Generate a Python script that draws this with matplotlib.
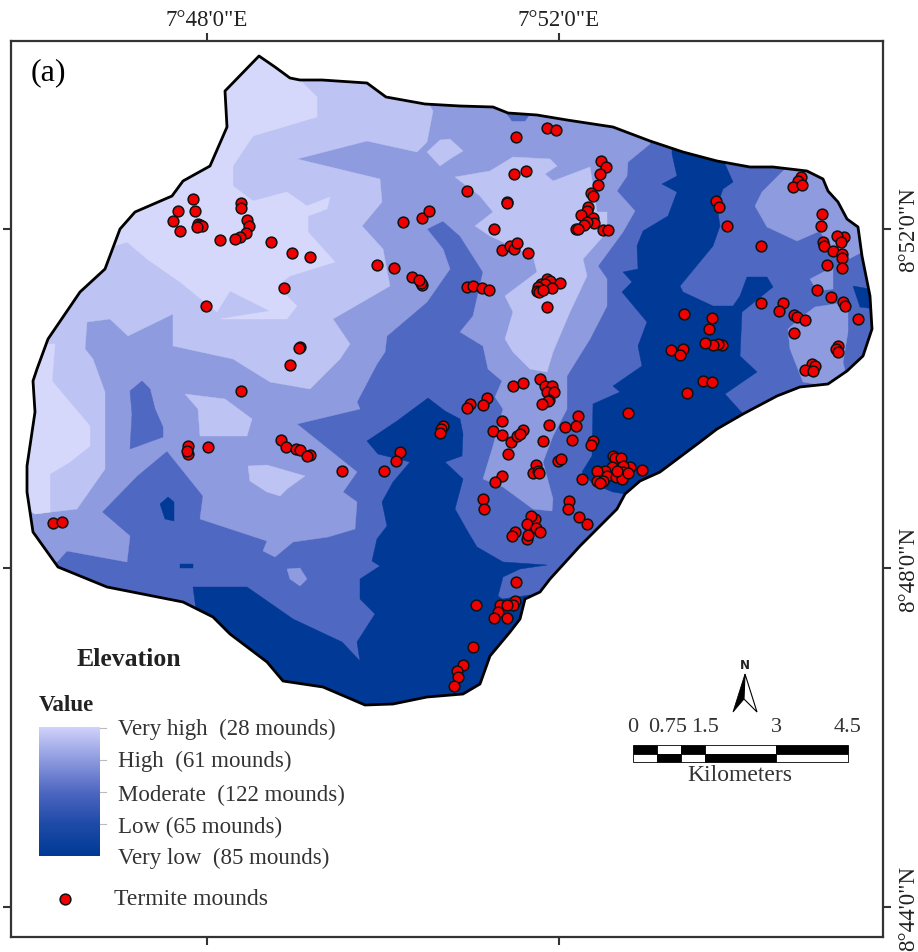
import matplotlib
matplotlib.use("Agg")
import matplotlib.pyplot as plt
import numpy as np
from matplotlib.patches import Polygon, Rectangle
from matplotlib.colors import LinearSegmentedColormap

plt.rcParams['font.family'] = ['Liberation Serif', 'DejaVu Serif']

# ---- map geometry (map units = image pixels) ----
outline = [(259,57),(275,68),(290,79),(300,81),(322,81),(367,84),(386,98),(425,105),(460,107),(493,108),(508,114),
           (537,116),(567,121),(613,128),(650,142),(683,153),(717,162),(750,168),(773,168),(807,172),(823,180),(828,192),
           (838,203),(847,220),(858,228),(862,257),(870,297),(872,330),(863,357),(847,372),(828,385),(800,388),(777,397),
           (743,415),(717,430),(700,443),(660,473),(640,482),(625,495),(617,510),(580,547),(550,580),(540,593),(525,600),
           (520,620),(510,633),(490,657),(480,685),(463,695),(427,698),(393,705),(365,706),(323,688),(283,682),(267,663),
           (230,635),(213,618),(183,603),(107,588),(58,568),(33,533),(27,493),(27,467),(35,413),(33,382),(37,370),(48,340),
           (80,293),(105,270),(120,230),(135,213),(172,197),(183,182),(210,167),(227,128),(225,92)]

moderate_zones = [
    [(650,130),(650,145),(628,163),(627,177),(617,192),(635,212),(623,233),(598,267),(607,280),(607,307),(590,340),
     (567,377),(567,410),(553,437),(543,463),(553,500),(552,512),(533,510),(503,488),(483,480),(493,447),(503,410),
     (495,398),(502,382),(488,370),(483,347),(460,333),(473,317),(483,273),(460,237),(443,222),(427,230),(443,250),
     (450,270),(427,303),(387,337),(385,353),(377,365),(357,403),(360,410),(297,425),(357,473),(343,493),(357,503),
     (355,530),(328,538),(293,543),(275,558),(263,552),(267,542),(200,520),(203,497),(167,452),(137,477),(102,513),
     (130,537),(127,563),(67,552),(57,563),(30,560),(0,400),(200,40),(650,40)],
    [(785,170),(762,193),(755,207),(767,228),(797,242),(820,232),(830,250),(845,262),(868,250),(860,170)],
    [(810,280),(833,268),(833,290),(817,292)],
    [(815,308),(848,303),(848,333),(843,363),(845,372),(827,387),(803,383),(790,350),(788,330),(803,317)],
    [(287,570),(300,569),(307,580),(300,587),(290,580)],
]
low_islands = [
    [(142,382),(130,392),(132,415),(130,450),(163,438),(163,428),(155,410),(150,390)],
    [(505,112),(532,112),(525,122),(512,122)],
]
high_zones = [
    [(300,60),(420,90),(433,112),(427,143),(417,153),(367,142),(297,160),(380,180),(382,203),(362,227),(383,250),
     (390,287),(333,320),(350,345),(340,360),(310,390),(270,383),(233,360),(173,347),(173,315),(128,337),(110,320),
     (87,323),(85,350),(93,360),(105,393),(105,470),(77,510),(35,515),(10,500),(10,300),(200,60)],
    [(455,178),(490,172),(513,158),(550,160),(557,167),(545,175),(553,182),(590,168),(597,213),(607,213),(607,233),
     (583,260),(587,277),(570,313),(553,353),(547,373),(530,370),(513,353),(505,340),(513,313),(505,297),(537,273),
     (533,257),(490,237),(475,227),(493,213),(480,197)],
    [(427,153),(440,141),(450,140),(463,152),(450,160),(440,167)],
    [(185,395),(225,400),(252,420),(247,437),(200,437),(198,410)],
    [(248,467),(267,466),(305,477),(287,490),(280,497),(267,493),(250,482)],
]
very_high_zones = [
    [(302,70),(302,83),(317,98),(317,118),(253,137),(233,167),(233,187),(253,202),(287,193),(307,207),(330,198),
     (327,210),(308,217),(308,233),(335,263),(290,277),(277,287),(297,307),(287,320),(220,320),(270,312),
     (230,292),(217,313),(180,283),(147,260),(127,243),(115,247),(100,240),(240,40)],
    [(20,345),(55,345),(52,382),(90,427),(90,447),(70,463),(50,475),(50,513),(35,515),(10,500),(10,360)],
]
very_low_zones = [
    [(428,399),(445,412),(460,420),(463,435),(462,457),(445,463),(463,480),(455,510),(468,533),(477,548),(503,563),
     (547,566),(520,570),(503,578),(498,597),(502,600),(530,596),(560,600),(530,650),(450,720),(300,720),(200,640),
     (193,588),(247,588),(293,620),(342,643),(360,662),(357,643),(375,615),(360,600),(360,580),(380,567),(372,562),
     (377,540),(387,527),(382,503),(393,483),(410,463),(378,455),(367,442),(397,422)],
    [(672,140),(672,155),(677,177),(662,185),(677,193),(668,217),(643,232),(637,247),(638,270),(623,273),(632,283),
     (622,293),(647,323),(638,347),(642,367),(613,387),(620,393),(593,405),(592,457),(582,473),(593,485),(613,493),
     (625,495),(660,490),(760,420),(743,415),(725,395),(757,373),(740,357),(742,313),(773,288),(767,278),(747,278),
     (740,297),(733,307),(713,307),(683,293),(680,287),(713,247),(720,227),(717,207),(723,190),(733,183),(725,165),(725,150)],
    [(853,287),(870,290),(875,310),(860,308)],
    [(168,498),(160,505),(165,520),(174,522),(174,503)],
    [(180,565),(193,565),(193,569),(180,569)],
]

mounds_north_west = [(193,200),(178,212),(195,212),(173,222),(180,232),(198,225),(200,226),(202,227),(197,228),
    (241,204),(241,209),(247,221),(249,227),(246,234),(240,238),(235,240),(220,241),(271,243),(292,254),(310,258),
    (284,289),(206,307),(300,348),(299,349),(290,366),(403,223),(422,219),(429,212),(377,266),(394,269),(412,278),
    (422,286),(421,284),(419,281),(241,392)]
mounds_north_centre = [(516,138),(547,129),(556,131),(514,175),(526,172),(467,192),(507,203),(507,204),(494,230),
    (502,251),(510,247),(514,250),(517,244),(528,254),(601,162),(606,168),(600,175),(598,186),(591,194),(593,197),
    (588,208),(587,212),(581,216),(593,219),(594,224),(587,223),(584,226),(576,230),(578,230),(603,231),(608,231),
    (467,288),(473,287),(482,289),(489,291),(547,280),(550,282),(541,285),(545,285),(560,284),(552,289),(538,288),
    (537,292),(539,293),(543,291),(547,308)]
mounds_east = [(716,202),(719,208),(727,227),(761,247),(801,178),(798,182),(793,188),(802,186),(822,215),(821,227),
    (844,238),(837,237),(841,243),(823,243),(824,247),(833,252),(842,255),(842,259),(827,266),(842,269),(817,291),
    (831,298),(843,303),(845,307),(858,320),(761,304),(783,304),(779,312),(794,316),(797,318),(805,321),(794,334),
    (838,347),(836,350),(838,353),(812,365),(815,367),(805,371),(813,372),(684,315),(712,319),(709,330),(722,346),
    (718,345),(713,346),(705,344),(683,350),(671,351),(680,356),(703,382),(712,383),(687,394),(628,414)]
mounds_centre_south = [(540,380),(513,387),(523,384),(545,387),(552,387),(547,393),(554,393),(549,401),(548,402),
    (542,405),(487,399),(483,406),(470,405),(467,409),(443,427),(441,430),(440,434),(400,453),(396,462),(384,472),
    (502,422),(493,432),(502,436),(511,443),(517,437),(523,431),(520,435),(549,426),(543,442),(508,455),(578,417),
    (565,428),(576,427),(572,441),(593,442),(591,446),(558,462),(561,460),(536,466),(533,474),(538,472),(539,474),
    (502,477),(495,483),(613,457),(615,459),(621,459),(642,471),(630,468),(623,467),(623,473),(612,468),(605,472),
    (597,472),(607,477),(616,478),(622,480),(597,482),(603,482),(600,484),(582,480),(628,474),(617,472),(483,500),
    (484,510),(569,502),(568,510),(579,518),(587,525),(535,520),(531,517),(527,525),(536,529),(540,533),(527,540),
    (528,536),(515,533),(512,537),(516,583),(476,606),(515,602),(513,606),(500,606),(507,606),(498,613),(494,619),
    (507,619),(473,648),(463,666),(457,672),(458,678),(454,687)]
mounds_south_west = [(188,447),(188,455),(187,452),(208,448),(281,441),(286,448),(296,450),(300,451),(310,456),
    (307,457),(342,472),(53,524),(62,523)]

class_labels = ['Very high  (28 mounds)', 'High  (61 mounds)', 'Moderate  (122 mounds)', 'Low (65 mounds)', 'Very low  (85 mounds)']
scale_km = [0, 0.5, 1.0, 1.5, 3.0, 4.5]
scale_labels = ['0', '0.75', '1.5', '3', '4.5']
x_ticks = [207, 559]
x_labels = ['7°48\'0"E', '7°52\'0"E']
y_ticks = [230, 569, 908]
y_labels = ['8°52\'0"N', '8°48\'0"N', '8°44\'0"N']

C_VH, C_H, C_M, C_L, C_VL = '#D6D8FB', '#BDC3F2', '#8E9BDF', '#4F68C2', '#003A96'
INK = '#222222'
W, H = 918, 953
L_, R_, T_, B_ = 11, 883, 42, 938

fig = plt.figure(figsize=(W/100, H/100), dpi=100, facecolor='white')
ax = fig.add_axes([L_/W, 1-B_/H, (R_-L_)/W, (B_-T_)/H])

clip = Polygon(outline, closed=True, facecolor=C_L, edgecolor='none', zorder=1)
ax.add_patch(clip)
for zones, col, z in [(moderate_zones, C_M, 2), (low_islands, C_L, 3), (high_zones, C_H, 4),
                      (very_high_zones, C_VH, 5), (very_low_zones, C_VL, 6)]:
    for poly in zones:
        p = Polygon(poly, closed=True, facecolor=col, edgecolor=col, lw=0.3, zorder=z)
        ax.add_patch(p)
        p.set_clip_path(clip)
ax.add_patch(Polygon(outline, closed=True, fill=False, edgecolor='black', lw=2.0, joinstyle='round', zorder=7))

mounds = np.array(mounds_north_west + mounds_north_centre + mounds_east + mounds_centre_south + mounds_south_west)
ax.scatter(mounds[:, 0], mounds[:, 1], s=60, c='#F00000', edgecolors='#111111', linewidths=1.1, zorder=8)

# axes frame & ticks
ax.set_xlim(L_, R_)
ax.set_ylim(B_, T_)
ax.set_xticks(x_ticks, x_labels)
ax.set_yticks(y_ticks, y_labels)
ax.tick_params(axis='x', top=True, bottom=True, labeltop=True, labelbottom=False, length=6, width=1.5, color='#333333', labelsize=16.5, labelcolor=INK, pad=2)
ax.tick_params(axis='y', left=True, right=True, labelleft=False, labelright=True, length=6, width=1.5, color='#333333', labelsize=16.5, labelcolor=INK, pad=5)
for t in ax.get_yticklabels():
    t.set_rotation(90)
    t.set_va('center')
for s in ax.spines.values():
    s.set_linewidth(1.6)
    s.set_color('#333333')

ax.text(31, 73, '(a)', fontsize=23, color='black', va='center', ha='left')

# legend
ax.text(77, 660, 'Elevation', fontsize=18.5, fontweight='bold', color=INK, va='center', ha='left')
ax.text(39, 706, 'Value', fontsize=16.5, fontweight='bold', color=INK, va='center', ha='left')
cmap = LinearSegmentedColormap.from_list('elev', ['#D0D2FB', '#8E9BDF', C_L, '#1F4BA8', C_VL])
ax.imshow(np.linspace(0, 1, 128)[:, None], cmap=cmap, extent=(39, 100, 857, 728), aspect='auto', zorder=2)
ax.set_xlim(L_, R_)
ax.set_ylim(B_, T_)
for yy in [729, 761, 793, 825]:
    ax.plot([100, 106], [yy, yy], color='#BBBBBB', lw=0.8, zorder=2)
for lab, yy in zip(class_labels, [729, 761, 795, 827, 858]):
    ax.text(118, yy, lab, fontsize=16.5, color='#333333', va='center', ha='left')
ax.scatter([65], [900], s=60, c='#F00000', edgecolors='#111111', linewidths=1.1, zorder=8)
ax.text(114, 900, 'Termite mounds', fontsize=17, color='#333333', va='center', ha='left')

# scale bar
PX_KM = (848-633)/4.5
for i, (a, b) in enumerate(zip(scale_km[:-1], scale_km[1:])):
    x0, wd = 633+a*PX_KM, (b-a)*PX_KM
    ax.add_patch(Rectangle((x0, 746), wd, 9, facecolor='black' if i % 2 == 0 else 'white', edgecolor='black', lw=0.6, zorder=3))
    ax.add_patch(Rectangle((x0, 755), wd, 8, facecolor='white' if i % 2 == 0 else 'black', edgecolor='black', lw=0.6, zorder=3))
for lab, xp in zip(scale_labels, [633, 668, 705, 776, 848]):
    ax.text(xp, 728, lab, fontsize=16, color='#333333', va='center', ha='center')
ax.text(740, 776, 'Kilometers', fontsize=17, color='#333333', va='center', ha='center')

# north arrow
ax.text(745, 666, 'N', fontsize=8.5, family='DejaVu Sans', fontweight='bold', color=INK, va='center', ha='center')
ax.add_patch(Polygon([(745, 675), (733, 713), (744, 700)], closed=True, facecolor='black', edgecolor='black', lw=0.6, zorder=3))
ax.add_patch(Polygon([(745, 675), (757, 713), (744, 700)], closed=True, facecolor='white', edgecolor='black', lw=0.8, zorder=3))

fig.savefig('out.png', dpi=100)
